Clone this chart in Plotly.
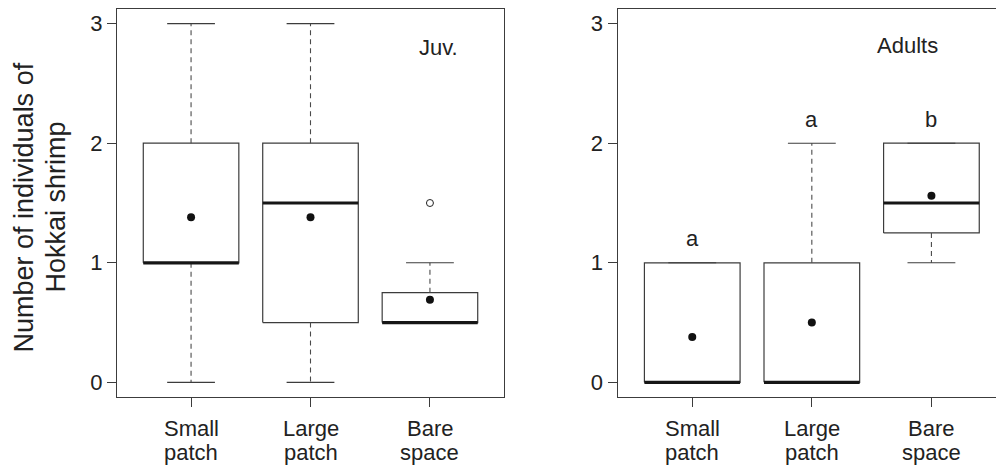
import plotly.graph_objects as go

# ---------------- data ----------------
cat_line1 = ["Small", "Large", "Bare"]
cat_line2 = ["patch", "patch", "space"]
cat_pos = [1, 2, 3]
y_ticks = [0, 1, 2, 3]

# Juveniles
juv_q1 = [1.0, 0.5, 0.5]
juv_median = [1.0, 1.5, 0.5]
juv_q3 = [2.0, 2.0, 0.75]
juv_low = [0.0, 0.0, 0.5]
juv_high = [3.0, 3.0, 1.0]
juv_mean = [1.38, 1.38, 0.69]
juv_outliers = [[], [], [1.5]]

# Adults
adu_q1 = [0.0, 0.0, 1.25]
adu_median = [0.0, 0.0, 1.5]
adu_q3 = [1.0, 1.0, 2.0]
adu_low = [0.0, 0.0, 1.0]
adu_high = [1.0, 2.0, 2.0]
adu_mean = [0.38, 0.50, 1.56]
adu_outliers = [[], [], []]
adu_letters = ["a", "a", "b"]
adu_letter_y = [1.2, 2.2, 2.2]

panel_labels = ["Juv.", "Adults"]
y_title_1 = "Number of individuals of"
y_title_2 = "Hokkai shrimp"

# ---------------- style ----------------
FONT = "Liberation Sans, Arial, Helvetica, sans-serif"
TXT = "#222222"
LINE = "#3c3c3c"
BOX_HALF = 0.4
CAP_HALF = 0.2
W = 996
H = 468
FS = 22

fig = go.Figure()


def add_panel(xa, ya, q1, med, q3, lo, hi, mean, outl):
    for c, a, m, b, l, h in zip(cat_pos, q1, med, q3, lo, hi):
        # box
        fig.add_trace(go.Scatter(
            x=[c - BOX_HALF, c + BOX_HALF, c + BOX_HALF, c - BOX_HALF, c - BOX_HALF],
            y=[a, a, b, b, a], mode="lines", fill="toself", fillcolor="white",
            line=dict(color=LINE, width=1.2), xaxis=xa, yaxis=ya,
            hoverinfo="skip", showlegend=False))
        # whiskers (dashed)
        wx, wy = [], []
        if h > b:
            wx += [c, c, None]
            wy += [b, h, None]
        if l < a:
            wx += [c, c, None]
            wy += [a, l, None]
        if wx:
            fig.add_trace(go.Scatter(
                x=wx, y=wy, mode="lines", line=dict(color="#4a4a4a", width=1.1, dash="5px,4px"),
                xaxis=xa, yaxis=ya, hoverinfo="skip", showlegend=False))
        # caps
        fig.add_trace(go.Scatter(
            x=[c - CAP_HALF, c + CAP_HALF, None, c - CAP_HALF, c + CAP_HALF],
            y=[h, h, None, l, l], mode="lines", line=dict(color=LINE, width=1.1),
            xaxis=xa, yaxis=ya, hoverinfo="skip", showlegend=False))
        # median
        fig.add_trace(go.Scatter(
            x=[c - BOX_HALF, c + BOX_HALF], y=[m, m], mode="lines",
            line=dict(color="#161616", width=3.2),
            xaxis=xa, yaxis=ya, hoverinfo="skip", showlegend=False))
    # means
    fig.add_trace(go.Scatter(
        x=cat_pos, y=mean, mode="markers",
        marker=dict(size=8, color="#111111", line=dict(width=0)),
        xaxis=xa, yaxis=ya, hoverinfo="skip", showlegend=False))
    # outliers
    ox, oy = [], []
    for c, vals in zip(cat_pos, outl):
        for v in vals:
            ox.append(c)
            oy.append(v)
    if ox:
        fig.add_trace(go.Scatter(
            x=ox, y=oy, mode="markers",
            marker=dict(size=7, color="white", symbol="circle",
                        line=dict(width=1, color="#222222")),
            xaxis=xa, yaxis=ya, hoverinfo="skip", showlegend=False))


add_panel("x", "y", juv_q1, juv_median, juv_q3, juv_low, juv_high, juv_mean, juv_outliers)
add_panel("x2", "y2", adu_q1, adu_median, adu_q3, adu_low, adu_high, adu_mean, adu_outliers)

ydom = [1 - 396.7 / H, 1 - 9.3 / H]
tickfont = dict(family=FONT, size=FS, color=TXT)

common_x = dict(tickmode="array", tickvals=cat_pos, ticktext=["", "", ""],
                ticks="outside", ticklen=9, tickcolor=LINE, tickwidth=1,
                showline=True, linecolor=LINE, linewidth=1, mirror=True,
                showgrid=False, zeroline=False, fixedrange=True)
common_y = dict(tickmode="array", tickvals=y_ticks, ticktext=[str(v) for v in y_ticks],
                ticks="outside", ticklen=9, tickcolor=LINE, tickwidth=1,
                showline=True, linecolor=LINE, linewidth=1,
                showgrid=False, zeroline=False, range=[-0.12, 3.12],
                tickfont=tickfont, fixedrange=True)

fig.update_layout(
    width=W, height=H,
    margin=dict(l=0, r=0, t=0, b=0),
    paper_bgcolor="white", plot_bgcolor="white",
    showlegend=False,
    font=dict(family=FONT, color=TXT),
    xaxis=dict(domain=[117 / W, 504 / W], range=[0.38, 3.62], anchor="y", **common_x),
    yaxis=dict(domain=ydom, anchor="x", mirror=True, **common_y),
    xaxis2=dict(domain=[617.5 / W, 1.0], range=[0.375, 3.54], anchor="y2", **common_x),
    yaxis2=dict(domain=ydom, anchor="x2", mirror=False, **common_y),
)

anns = []
# category labels (two lines each)
for xr in ["x", "x2"]:
    for c, l1, l2 in zip(cat_pos, cat_line1, cat_line2):
        anns.append(dict(x=c, y=1 - 428.5 / H, xref=xr, yref="paper", text=l1,
                         showarrow=False, xanchor="center", yanchor="middle",
                         font=dict(family=FONT, size=FS, color=TXT)))
        anns.append(dict(x=c, y=1 - 452.5 / H, xref=xr, yref="paper", text=l2,
                         showarrow=False, xanchor="center", yanchor="middle",
                         font=dict(family=FONT, size=FS, color=TXT)))
# panel labels
anns.append(dict(x=3.075, y=2.80, xref="x", yref="y", text=panel_labels[0], showarrow=False,
                 xanchor="center", yanchor="middle", font=dict(family=FONT, size=FS, color=TXT)))
anns.append(dict(x=2.80, y=2.82, xref="x2", yref="y2", text=panel_labels[1], showarrow=False,
                 xanchor="center", yanchor="middle", font=dict(family=FONT, size=FS, color=TXT)))
# significance letters
for c, t, yy in zip(cat_pos, adu_letters, adu_letter_y):
    anns.append(dict(x=c, y=yy, xref="x2", yref="y2", text=t, showarrow=False,
                     xanchor="center", yanchor="middle", font=dict(family=FONT, size=FS, color=TXT)))
# y title (two lines)
anns.append(dict(x=23 / W, y=1 - 207.5 / H, xref="paper", yref="paper", text=y_title_1,
                 textangle=-90, showarrow=False, xanchor="center", yanchor="middle",
                 font=dict(family=FONT, size=27, color=TXT)))
anns.append(dict(x=55 / W, y=1 - 207.5 / H, xref="paper", yref="paper", text=y_title_2,
                 textangle=-90, showarrow=False, xanchor="center", yanchor="middle",
                 font=dict(family=FONT, size=27, color=TXT)))
fig.update_layout(annotations=anns)

fig.write_html(
    "out.html",
    config={"displayModeBar": False, "staticPlot": True},
    post_script="document.body.style.margin='0';document.body.style.padding='0';"
                "document.documentElement.style.overflow='hidden';",
)
